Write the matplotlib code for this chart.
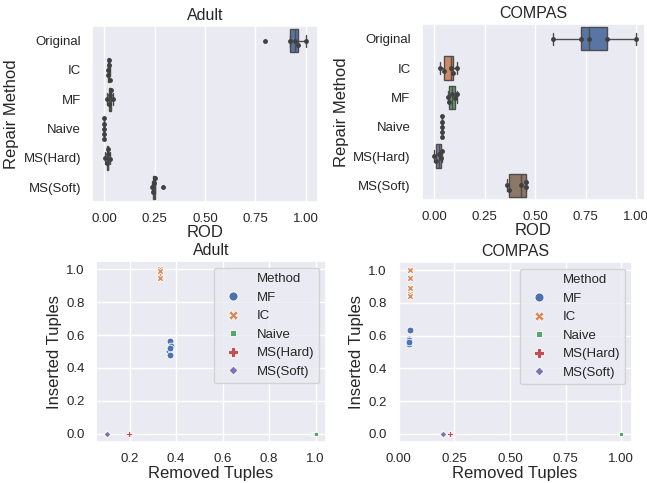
import matplotlib
matplotlib.use("Agg")
import matplotlib.pyplot as plt
from matplotlib.lines import Line2D
import numpy as np
import pandas as pd
import seaborn as sns

sns.set_theme(style="darkgrid")
plt.rcParams["font.family"] = ["Liberation Sans", "DejaVu Sans"]

repair_order = ["Original", "IC", "MF", "Naive", "MS(Hard)", "MS(Soft)"]

# ROD per repair method, five runs each
adult_rod = {
    "Original": [0.80, 0.92, 0.945, 0.96, 1.00],
    "IC": [0.016, 0.019, 0.021, 0.023, 0.026],
    "MF": [0.013, 0.022, 0.028, 0.035, 0.045],
    "Naive": [0.0, 0.0, 0.0, 0.0, 0.0],
    "MS(Hard)": [0.004, 0.012, 0.016, 0.020, 0.028],
    "MS(Soft)": [0.238, 0.243, 0.248, 0.252, 0.29],
}
compas_rod = {
    "Original": [0.588, 0.727, 0.765, 0.855, 1.00],
    "IC": [0.028, 0.048, 0.081, 0.091, 0.114],
    "MF": [0.066, 0.073, 0.085, 0.101, 0.114],
    "Naive": [0.038, 0.038, 0.038, 0.038, 0.038],
    "MS(Hard)": [0.0, 0.008, 0.022, 0.035, 0.040],
    "MS(Soft)": [0.36, 0.37, 0.43, 0.452, 0.455],
}

scatter_order = ["MF", "IC", "Naive", "MS(Hard)", "MS(Soft)"]
scatter_markers = ["o", "X", (4, 0, 45), "P", (4, 0, 0)]

adult_removed = {
    "MF": [0.374, 0.377, 0.369, 0.374, 0.372],
    "IC": [0.330, 0.330, 0.329, 0.331, 0.330],
    "Naive": [0.988, 0.992, 0.995, 0.998, 1.0],
    "MS(Hard)": [0.198, 0.200, 0.201, 0.200, 0.199],
    "MS(Soft)": [0.100, 0.101, 0.102, 0.103, 0.101],
}
adult_inserted = {
    "MF": [0.563, 0.531, 0.506, 0.48, 0.52],
    "IC": [1.0, 0.984, 0.963, 0.947, 0.99],
    "Naive": [0.0, 0.0, 0.0, 0.0, 0.0],
    "MS(Hard)": [0.0, 0.0, 0.0, 0.0, 0.0],
    "MS(Soft)": [0.0, 0.0, 0.0, 0.0, 0.0],
}
compas_removed = {
    "MF": [0.050, 0.048, 0.045, 0.047, 0.046],
    "IC": [0.053, 0.053, 0.052, 0.051, 0.052],
    "Naive": [1.0, 1.0, 1.0, 1.0, 1.0],
    "MS(Hard)": [0.228, 0.232, 0.236, 0.234, 0.230],
    "MS(Soft)": [0.196, 0.198, 0.200, 0.197, 0.199],
}
compas_inserted = {
    "MF": [0.637, 0.582, 0.575, 0.551, 0.56],
    "IC": [1.0, 0.951, 0.888, 0.857, 0.845],
    "Naive": [0.0, 0.0, 0.0, 0.0, 0.0],
    "MS(Hard)": [0.0, 0.0, 0.0, 0.0, 0.0],
    "MS(Soft)": [0.0, 0.0, 0.0, 0.0, 0.0],
}


def to_frame(rod):
    rows = [(m, v) for m in repair_order for v in rod[m]]
    return pd.DataFrame(rows, columns=["Method", "ROD"])


def plot_rod(ax, rod, title, xlim):
    frame = to_frame(rod)
    sns.boxplot(data=frame, x="ROD", y="Method", hue="Method", order=repair_order,
                hue_order=repair_order, palette="deep", legend=False, saturation=0.75,
                showfliers=False, width=0.8, linewidth=1.0, linecolor=".3", ax=ax)
    sns.swarmplot(data=frame, x="ROD", y="Method", order=repair_order, color=".25",
                  size=3.5, ax=ax)
    ax.set_xlim(*xlim)
    ax.set_xticks([0.0, 0.25, 0.5, 0.75, 1.0])
    ax.set_xticklabels(["0.00", "0.25", "0.50", "0.75", "1.00"])
    ax.yaxis.grid(False)
    ax.tick_params(labelsize=9.5, pad=2)
    ax.set_title(title, fontsize=11.5, pad=4)
    ax.set_xlabel("ROD", fontsize=12, labelpad=0)
    ax.set_ylabel("Repair Method", fontsize=12, labelpad=3)


def plot_tuples(ax, removed, inserted, title, xticks, fmt):
    palette = sns.color_palette("deep")
    for i, (method, marker) in enumerate(zip(scatter_order, scatter_markers)):
        ax.scatter(removed[method], inserted[method], s=24, marker=marker,
                   color=palette[i], edgecolor="white", linewidth=0.6, zorder=3)
    ax.set_xticks(xticks)
    ax.set_xticklabels([fmt.format(t) for t in xticks])
    ax.set_yticks([0.0, 0.2, 0.4, 0.6, 0.8, 1.0])
    ax.set_yticklabels(["0.0", "0.2", "0.4", "0.6", "0.8", "1.0"])
    ax.tick_params(labelsize=9.5, pad=2)
    ax.set_title(title, fontsize=11.5, pad=4)
    ax.set_xlabel("Removed Tuples", fontsize=12, labelpad=1)
    ax.set_ylabel("Inserted Tuples", fontsize=12, labelpad=3)
    handles = [Line2D([], [], linestyle="none", marker="")]
    labels = ["Method"]
    for i, (method, marker) in enumerate(zip(scatter_order, scatter_markers)):
        handles.append(Line2D([], [], linestyle="none", marker=marker, markersize=6.5,
                              color=palette[i], markeredgecolor="white",
                              markeredgewidth=0.6))
        labels.append(method)
    ax.legend(handles, labels, loc="upper right", fontsize=9.5, labelspacing=0.48,
              handletextpad=0.8, borderpad=0.4, frameon=True)


fig = plt.figure(figsize=(6.47, 4.83), dpi=100)
ax_tl = fig.add_axes([0.1422, 0.5818, 0.3493, 0.3644])
ax_tr = fig.add_axes([0.6518, 0.5859, 0.3451, 0.3644])
ax_bl = fig.add_axes([0.1484, 0.0849, 0.3555, 0.3747])
ax_br = fig.add_axes([0.6151, 0.0849, 0.3617, 0.3727])

plot_rod(ax_tl, adult_rod, "Adult", (-0.061, 1.061))
plot_rod(ax_tr, compas_rod, "COMPAS", (-0.0625, 1.043))
plot_tuples(ax_bl, adult_removed, adult_inserted, "Adult",
            [0.2, 0.4, 0.6, 0.8, 1.0], "{:.1f}")
plot_tuples(ax_br, compas_removed, compas_inserted, "COMPAS",
            [0.0, 0.25, 0.5, 0.75, 1.0], "{:.2f}")

fig.savefig("out.png", dpi=100)
